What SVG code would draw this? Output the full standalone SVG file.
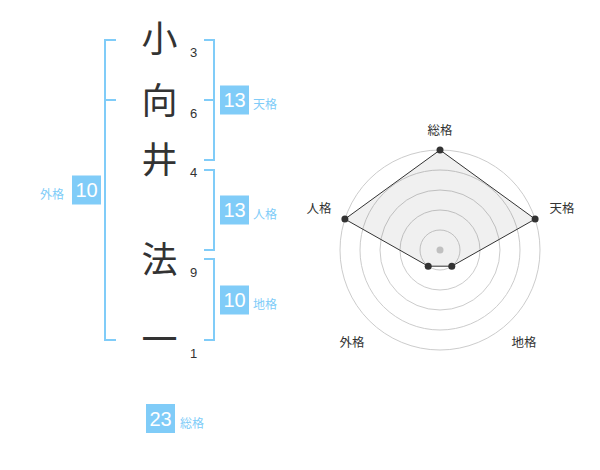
<svg xmlns="http://www.w3.org/2000/svg" width="600" height="470" viewBox="0 0 600 470">
<style>
.ch{font-family:"Noto Sans CJK JP","Noto Sans CJK SC",sans-serif;font-size:36px;fill:#333;text-anchor:middle}
.st{font-family:"Liberation Sans",Arial,sans-serif;font-size:13px;fill:#333}
.br{fill:none;stroke:#80ccf8;stroke-width:2}
.box{fill:#80ccf8}
.bn{font-family:"Liberation Sans",Arial,sans-serif;font-size:20px;fill:#fff;text-anchor:middle}
.bl{font-family:"Noto Sans CJK JP","Noto Sans CJK SC",sans-serif;font-size:12px;fill:#80ccf8}
.rl{font-family:"Noto Sans CJK JP","Noto Sans CJK SC",sans-serif;font-size:12.5px;fill:#333;text-anchor:middle}
.ring{fill:none;stroke:#cccccc;stroke-width:1}
.pt{fill:#333}
</style>
<rect width="600" height="470" fill="#fff"/>
<g id="chars">
<g id="c1"><text class="ch" x="159.5" y="52">小</text><text class="st" x="190" y="57">3</text></g>
<g id="c2"><text class="ch" x="159.5" y="113.5">向</text><text class="st" x="190" y="118">6</text></g>
<g id="c3"><text class="ch" x="159.5" y="172.5">井</text><text class="st" x="190" y="177">4</text></g>
<g id="c4"><text class="ch" x="159.5" y="272.5">法</text><text class="st" x="190" y="277">9</text></g>
<g id="c5"><text class="ch" x="159.5" y="352.5">一</text><text class="st" x="190" y="358">1</text></g>
</g>
<g id="connectors">
<path class="br" d="M116,40 H105 V340 H116 M105,100 H116"/>
<path class="br" d="M204,40 H214 V160 H204 M214,100 H204"/>
<path class="br" d="M204,170 H214 V250 H204"/>
<path class="br" d="M204,259 H214 V340 H204"/>
</g>
<g id="tenkaku"><rect class="box" x="220" y="85.5" width="29" height="29"/><text class="bn" x="234.5" y="107">13</text><text class="bl" x="253" y="109">天格</text></g>
<g id="jinkaku"><rect class="box" x="220" y="195.5" width="29" height="29"/><text class="bn" x="234.5" y="217">13</text><text class="bl" x="253" y="219">人格</text></g>
<g id="chikaku"><rect class="box" x="220" y="285.5" width="29" height="29"/><text class="bn" x="234.5" y="307">10</text><text class="bl" x="253" y="309">地格</text></g>
<g id="gaikaku"><rect class="box" x="72" y="175.5" width="29" height="29"/><text class="bn" x="86.5" y="197">10</text><text class="bl" x="40" y="199">外格</text></g>
<g id="soukaku"><rect class="box" x="146" y="404" width="29" height="29"/><text class="bn" x="160.5" y="425.5">23</text><text class="bl" x="180" y="427.5">総格</text></g>
<g id="radar">
<circle class="ring" cx="440" cy="250" r="20"/>
<circle class="ring" cx="440" cy="250" r="40"/>
<circle class="ring" cx="440" cy="250" r="60"/>
<circle class="ring" cx="440" cy="250" r="80"/>
<circle class="ring" cx="440" cy="250" r="100"/>
<circle cx="440" cy="250" r="3.5" fill="#cccccc"/>
<polygon points="440,150 535.1,219.1 451.8,266.2 428.2,266.2 344.9,219.1" fill="#000" fill-opacity="0.06" stroke="#333" stroke-width="1"/>
<circle class="pt" cx="440" cy="150" r="3.5"/>
<circle class="pt" cx="535.1" cy="219.1" r="3.5"/>
<circle class="pt" cx="451.8" cy="266.2" r="3.5"/>
<circle class="pt" cx="428.2" cy="266.2" r="3.5"/>
<circle class="pt" cx="344.9" cy="219.1" r="3.5"/>
<text class="rl" x="440" y="135">総格</text>
<text class="rl" x="562" y="213">天格</text>
<text class="rl" x="319" y="213">人格</text>
<text class="rl" x="352" y="347">外格</text>
<text class="rl" x="524" y="347">地格</text>
</g>
</svg>
